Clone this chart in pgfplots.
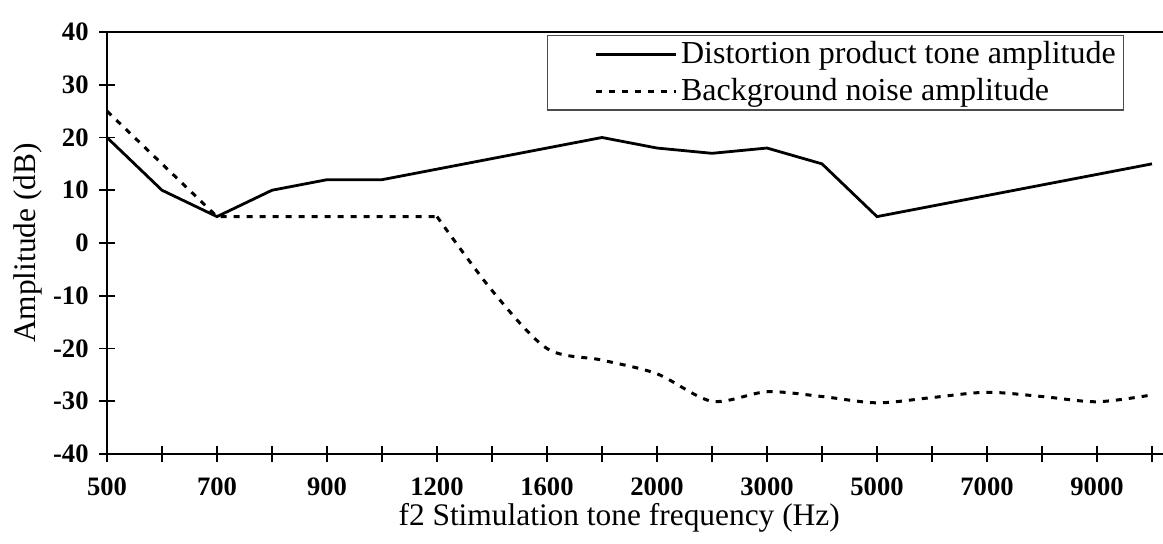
\documentclass[border=0pt]{standalone}
\usepackage{pgfplots}
\pgfplotsset{compat=1.18}
\usepackage{fontspec}
\setmainfont{Liberation Serif}

\begin{document}
\begin{tikzpicture}
\begin{axis}[
  scale only axis, width=528pt, height=211pt,
  at={(0,0)}, anchor=south west,
  xmin=0, xmax=19.2, ymin=-40, ymax=40,
  axis x line=box, axis y line=left,
  axis line style={-, line width=1.2pt, black},
  xtick={0,...,19},
  xticklabels={500,,700,,900,,1200,,1600,,2000,,3000,,5000,,7000,,9000,},
  ytick={-40,-30,...,40},
  tick align=center, major tick length=8pt,
  tick style={line width=0.8pt, black},
  xtick pos=left, ytick pos=left,
  /pgf/number format/assume math mode=true,
  ticklabel style={font=\fontsize{13.3}{15}\selectfont\bfseries},
  yticklabel style={anchor=east, inner sep=0pt, xshift=-5pt},
  xticklabel style={anchor=north, inner sep=0pt, yshift=-7.5pt},
  xlabel={f2 Stimulation tone frequency (Hz)},
  ylabel={Amplitude (dB)},
  xlabel style={at={(axis description cs:0.485,-0.1517)}, anchor=center, font=\fontsize{15.7}{18}\selectfont},
  ylabel style={at={(axis description cs:-0.0748,0.5)}, anchor=center, font=\fontsize{15.7}{18}\selectfont},
  legend style={at={(rel axis cs:0.4167,0.993)}, anchor=north west,
    draw=gray!60!black, line width=0.6pt, fill=white,
    inner xsep=2pt, inner ysep=1pt, row sep=2pt,
    font=\fontsize{16}{19}\selectfont},
  legend cell align=left,
  legend image code/.code={\path[draw=none] (0pt,0pt) -- (22pt,0pt); \draw[#1] (22pt,0pt) -- (62pt,0pt);},
]
\addplot[black, line width=1.4pt] coordinates {
(0,20)(1,10)(2,5)(3,10)(4,12)(5,12)(6,14)(7,16)(8,18)(9,20)
(10,18)(11,17)(12,18)(13,15)(14,5)(15,7)(16,9)(17,11)(18,13)(19,15)};
\addlegendentry{Distortion product tone amplitude\hspace{30pt}}
\addplot[black, line width=1.5pt, dash pattern=on 3pt off 3.5pt] coordinates {
(0,25)(1,15)(2,5)(3,5)(4,5)(5,5)(6,5)};
\addlegendentry{\raisebox{0pt}[\height][9pt]{Background noise amplitude}}
\addplot[black, line width=1.5pt, dash pattern=on 3pt off 3.5pt, smooth, forget plot] coordinates {
(6,5)(7,-9)(8,-20)(9,-22.2)(10,-24.8)(11,-30)(12,-28.2)(13,-29.1)(14,-30.3)
(15,-29.3)(16,-28.3)(17,-29.1)(18,-30.1)(19,-28.8)};
\end{axis}
\pgfresetboundingbox
\useasboundingbox (-53.5pt,-45pt) rectangle (528pt,227pt);
\end{tikzpicture}
\end{document}
